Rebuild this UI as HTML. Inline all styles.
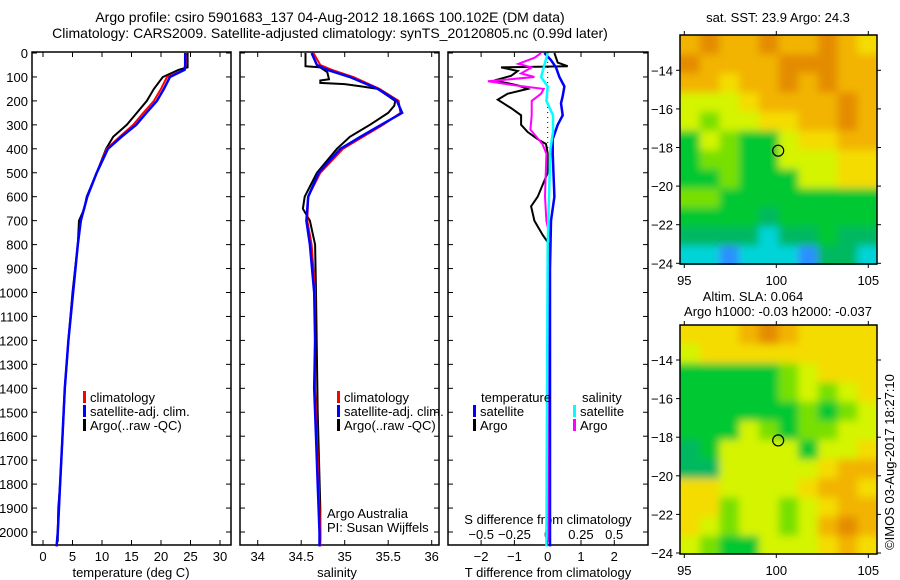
<!DOCTYPE html>
<html><head><meta charset="utf-8"><style>
html,body{margin:0;padding:0;background:#fff;overflow:hidden;}
svg{display:block;font-family:"Liberation Sans",sans-serif;}
text{font-size:13px;fill:#000;}
</style></head><body>
<svg id="c" width="900" height="580" viewBox="0 0 900 580" xmlns="http://www.w3.org/2000/svg">
<defs>
<filter id="blur" x="-10%" y="-10%" width="120%" height="120%"><feGaussianBlur stdDeviation="4"/></filter>
<clipPath id="clipTop"><rect x="680" y="35" width="197" height="230"/></clipPath>
<clipPath id="clipBot"><rect x="680" y="325" width="197" height="229"/></clipPath>
</defs>
<text x="330" y="22" text-anchor="middle" style="font-size:14px">Argo profile: csiro 5901683_137 04-Aug-2012 18.166S 100.102E (DM data)</text>
<text x="330" y="38" text-anchor="middle" style="font-size:14px">Climatology: CARS2009. Satellite-adjusted climatology: synTS_20120805.nc (0.99d later)</text>
<g id="g"></g>
</svg>
<script>
// ---- data ----
const depthTicks=[0,100,200,300,400,500,600,700,800,900,1000,1100,1200,1300,1400,1500,1600,1700,1800,1900,2000];
const tempTicks=[0,5,10,15,20,25,30];
const salTicks=[34,34.5,35,35.5,36];
const tdiffTicks=[-2,-1,0,1,2];
const sdiffTicks=[-0.5,-0.25,0,0.25,0.5];
const sdiffLabels=["-0.5","-0.25","0","0.25","0.5"];
const depthsClim=[0,50,70,100,150,200,250,300,350,400,500,600,700,800,1000,1200,1400,1600,1800,2000,2060];
const tempClim=[24.2,24.2,24.0,21.0,20.0,18.8,17.0,15.3,13.0,10.8,9.1,7.5,6.4,5.9,5.1,4.3,3.7,3.3,2.9,2.5,2.3];
const tempSat=[24.1,24.1,24.0,21.5,20.5,19.3,17.5,15.8,13.3,11.0,9.1,7.5,6.4,5.9,5.1,4.3,3.7,3.3,2.9,2.5,2.3];
const depthsArgoT=[0,60,70,100,150,200,250,300,350,400,500,600,650,700,800,1000,1200,1400,1600,1800,1900,2000,2040];
const tempArgo=[24.5,24.5,23.0,20.3,18.8,17.6,15.9,14.2,11.9,10.7,9.1,7.4,7.0,6.1,5.9,5.0,4.3,3.7,3.3,2.9,2.6,2.5,2.5];
const salClim=[34.64,34.72,34.85,35.10,35.40,35.62,35.64,35.44,35.21,34.98,34.72,34.58,34.57,34.62,34.66,34.66,34.66,34.68,34.70,34.72,34.72];
const salSat=[34.62,34.68,34.80,35.06,35.38,35.60,35.66,35.42,35.18,34.95,34.70,34.58,34.56,34.60,34.65,34.66,34.65,34.67,34.69,34.71,34.71];
const depthsArgoS=[0,55,60,80,110,115,125,130,140,150,200,220,250,300,350,400,500,600,650,700,800,1000,1500,1900,2040];
const salArgo=[34.55,34.55,34.72,34.80,34.82,34.72,34.72,35.00,35.20,35.38,35.58,35.57,35.50,35.29,35.06,34.91,34.68,34.54,34.52,34.60,34.66,34.67,34.69,34.72,34.72];
const depthsTArgoDiff=[0,40,55,60,75,95,115,135,150,170,195,230,260,300,330,360,380,420,500,600,640,700,760,800,850,1000,1500,2040];
const tArgoDiff=[0.2,0.3,0.6,-1.4,-0.9,-1.1,-1.6,-0.9,-0.6,-1.2,-1.5,-1.1,-0.8,-0.8,-0.6,-0.3,-0.05,0,0,-0.3,-0.5,-0.4,-0.15,0.05,0.03,0.03,0.03,0.03];
const depthsTSatDiff=[0,30,60,100,140,180,210,260,300,360,420,600,700,900,2060];
const tSatDiff=[-0.1,0.1,0.25,0.35,0.5,0.45,0.4,0.45,0.3,0.15,0.15,0.2,0.1,0.07,0.07];
const depthsSArgoDiff=[0,20,45,60,85,100,118,135,150,170,200,260,320,380,420,600,700,780,1000,2040];
const sArgoDiff=[-0.05,-0.1,-0.22,-0.12,-0.2,-0.1,-0.45,-0.25,-0.03,-0.05,-0.12,-0.12,-0.13,-0.04,-0.01,-0.02,-0.01,0.02,0.01,0.01];
const depthsSSatDiff=[0,60,100,140,200,260,330,400,600,800,2060];
const sSatDiff=[0,-0.03,-0.05,0,-0.01,0.04,0.04,0.02,0.01,0,-0.01];
const lonTicks=[95,100,105];
const latTicks=[-14,-16,-18,-20,-22,-24];
const sstGrid=[
[7,8,7,7,8,7,7,8,7,6],[8,7,7,7,7,8,8,8,7,7],[7,7,6,7,7,8,7,8,7,7],[5,5,5,6,7,7,7,7,8,7],
[5,4,5,5,6,6,7,7,8,7],[3,5,4,3,3,5,6,6,7,7],[3,4,4,3,3,5,5,5,6,6],[3,3,4,3,3,3,5,5,6,6],
[4,4,3,3,3,3,3,3,3,3],[3,3,3,3,2,3,3,3,3,3],[2,2,2,2,1,2,2,3,2,2],[1,1,0,1,1,1,0,2,2,1]];
const slaGrid=[
[6,6,6,7,8,7,6,6,6,6],[5,6,6,6,6,6,6,6,6,6],[3,3,3,3,3,4,5,6,6,6],[3,3,3,3,3,4,5,4,5,6],
[3,3,3,3,3,3,4,3,4,5],[3,3,3,5,4,3,4,4,5,5],[2,3,5,5,5,5,3,5,5,6],[2,2,5,5,5,5,5,6,7,7],
[6,6,5,5,5,5,6,7,7,6],[6,6,4,5,5,4,5,6,7,7],[6,5,4,5,5,4,5,7,8,7],[5,4,3,3,5,5,5,6,7,6]];
const argoLon=100.102, argoLat=-18.166;
const palette=["#2a90ff","#00d4d8","#00b860","#00c830","#78e000","#d4f400","#f4dc00","#f2b400","#e48c00"];

const NS="http://www.w3.org/2000/svg";
const G=document.getElementById('g');
function mk(tag,attrs,parent){const e=document.createElementNS(NS,tag);for(const k in attrs)e.setAttribute(k,attrs[k]);(parent||G).appendChild(e);return e;}
function txt(x,y,s,anchor,parent){const t=mk('text',{x:x,y:y,'text-anchor':anchor||'start'},parent);t.textContent=s;return t;}

const Y0=53, YS=0.2395, TOP=52, BOT=545;
const yD=d=>Y0+d*YS;
const xT=v=>43+v*5.9;
const xS=v=>257.7+(v-34)*87;
const xTd=v=>547.7+v*33.3;
const xSd=v=>547.7+v*133;

function line(ds,vs,fx,color,w,name){
  const p=ds.map((d,i)=>fx(vs[i]).toFixed(1)+','+yD(d).toFixed(1)).join(' ');
  const e=mk('polyline',{points:p,fill:'none',stroke:color,'stroke-width':w});
  
  
}
function panel(x0,x1,name){
  const r=mk('rect',{x:x0,y:TOP,width:x1-x0,height:BOT-TOP,fill:'none',stroke:'#000','stroke-width':1.5});
  
  
  depthTicks.forEach(d=>{mk('line',{x1:x0,x2:x0+5,y1:yD(d),y2:yD(d),stroke:'#000'});mk('line',{x1:x1-5,x2:x1,y1:yD(d),y2:yD(d),stroke:'#000'});});
}
// Panel 1
panel(32,231,'temperature-panel');
depthTicks.forEach(d=>{const t=txt(28,yD(d)+5,String(d),'end');});
tempTicks.forEach(v=>{mk('line',{x1:xT(v),x2:xT(v),y1:TOP,y2:TOP+5,stroke:'#000'});mk('line',{x1:xT(v),x2:xT(v),y1:BOT-5,y2:BOT,stroke:'#000'});
  const t=txt(xT(v),561,String(v),'middle');});
const l1=txt(131,577,'temperature (deg C)','middle');
line(depthsArgoT,tempArgo,xT,'#000',2,'temp-argo-line');
line(depthsClim,tempClim,xT,'#ff0000',2,'temp-clim-line');
line(depthsClim,tempSat,xT,'#0000ff',2.5,'temp-sat-line');
// Panel 2
panel(240,439,'salinity-panel');
salTicks.forEach(v=>{mk('line',{x1:xS(v),x2:xS(v),y1:TOP,y2:TOP+5,stroke:'#000'});mk('line',{x1:xS(v),x2:xS(v),y1:BOT-5,y2:BOT,stroke:'#000'});
  const t=txt(xS(v),561,String(v),'middle');});
const l2=txt(337,577,'salinity','middle');
line(depthsArgoS,salArgo,xS,'#000',2,'sal-argo-line');
line(depthsClim,salClim,xS,'#ff0000',2,'sal-clim-line');
line(depthsClim,salSat,xS,'#0000ff',2.5,'sal-sat-line');
// Panel 3
panel(448,648,'difference-panel');
tdiffTicks.forEach(v=>{mk('line',{x1:xTd(v),x2:xTd(v),y1:TOP,y2:TOP+5,stroke:'#000'});mk('line',{x1:xTd(v),x2:xTd(v),y1:BOT-5,y2:BOT,stroke:'#000'});
  const t=txt(xTd(v),561,String(v).replace('-','\u2212'),'middle');});
sdiffTicks.forEach((v,i)=>{const t=txt(xSd(v),539,sdiffLabels[i].replace('-','\u2212'),'middle');});
const l3=txt(548,577,'T difference from climatology','middle');
const l4=txt(548,524,'S difference from climatology','middle');
mk('line',{x1:547.7,x2:547.7,y1:TOP,y2:yD(420),stroke:'#000','stroke-width':1,'stroke-dasharray':'1,4'});
line(depthsTArgoDiff,tArgoDiff,xTd,'#000',2,'tdiff-argo-line');
line(depthsSArgoDiff,sArgoDiff,xSd,'#ff00ff',2,'sdiff-argo-line');
line(depthsTSatDiff,tSatDiff,xTd,'#0000ff',2.5,'tdiff-sat-line');
line(depthsSSatDiff,sSatDiff,xSd,'#00ffff',2.5,'sdiff-sat-line');

// legends
function leg(x,y,color,label,name){
  mk('rect',{x:x,y:y-11,width:3,height:12,fill:color});
  const t=txt(x+7,y,label,'start');
}
leg(83,402,'#ff0000','climatology','legend-entry-climatology');
leg(83,416,'#0000ff','satellite-adj. clim.','legend-entry-satellite-adj');
leg(83,430,'#000','Argo(..raw -QC)','legend-entry-argo');
leg(337,402,'#ff0000','climatology','legend-entry-climatology-2');
leg(337,416,'#0000ff','satellite-adj. clim.','legend-entry-satellite-adj-2');
leg(337,430,'#000','Argo(..raw -QC)','legend-entry-argo-2');
const tt=txt(481,402,'temperature','start');
const ts=txt(582,402,'salinity','start');
leg(473,416,'#0000ff','satellite','legend-entry-t-satellite');
leg(473,430,'#000','Argo','legend-entry-t-argo');
leg(573,416,'#00ffff','satellite','legend-entry-s-satellite');
leg(573,430,'#ff00ff','Argo','legend-entry-s-argo');
const a1=txt(327,518,'Argo Australia','start');
const a2=txt(327,532,'PI: Susan Wijffels','start');

// maps
const LX=18.4,LY=19.3;
function map(grid,top,clip,name,latRef){
  const xL=lon=>684.3+(lon-95)*LX;
  const yL=lat=>latRef-(lat+24)*LY;
  const g=mk('g',{'clip-path':'url(#'+clip+')'});
  
  
  const inner=mk('g',{filter:'url(#blur)'},g);
  const rows=grid.length, cols=grid[0].length;
  const cw=(877-680)/cols, ch=230/rows;
  for(let r=-1;r<=rows;r++)for(let c=-1;c<=cols;c++){
    const rr=Math.min(rows-1,Math.max(0,r)),cc=Math.min(cols-1,Math.max(0,c));
    const cell=mk('rect',{x:680+c*cw,y:top+r*ch,width:cw+0.5,height:ch+0.5,fill:palette[grid[rr][cc]]},inner);
    
    
  }
  mk('rect',{x:680,y:top,width:197,height:229,fill:'none',stroke:'#000','stroke-width':1.5});
  lonTicks.forEach(v=>{mk('line',{x1:xL(v),x2:xL(v),y1:top-4,y2:top,stroke:'#000'});mk('line',{x1:xL(v),x2:xL(v),y1:top+229,y2:top+233,stroke:'#000'});
    const t=txt(xL(v),top+250,String(v),'middle');});
  latTicks.forEach(v=>{mk('line',{x1:676,x2:680,y1:yL(v),y2:yL(v),stroke:'#000'});mk('line',{x1:877,x2:881,y1:yL(v),y2:yL(v),stroke:'#000'});
    const t=txt(673,yL(v)+5,String(v).replace('-','\u2212'),'end');});
  const c=mk('circle',{cx:xL(argoLon),cy:yL(argoLat),r:5.5,fill:'none',stroke:'#000','stroke-width':1.2});
  
  
}
map(sstGrid,35,'clipTop','sst-map',263.3);
map(slaGrid,325,'clipBot','sla-map',553);
const m1=txt(778,22,'sat. SST: 23.9 Argo: 24.3','middle');
const m2=txt(753,301,'Altim. SLA: 0.064','middle');
const m3=txt(778,316,'Argo h1000: -0.03 h2000: -0.037','middle');
const cr=txt(0,0,'\u00a9IMOS 03-Aug-2017 18:27:10','middle');
cr.setAttribute('transform','translate(894,462) rotate(-90)');


</script>
</body></html>
